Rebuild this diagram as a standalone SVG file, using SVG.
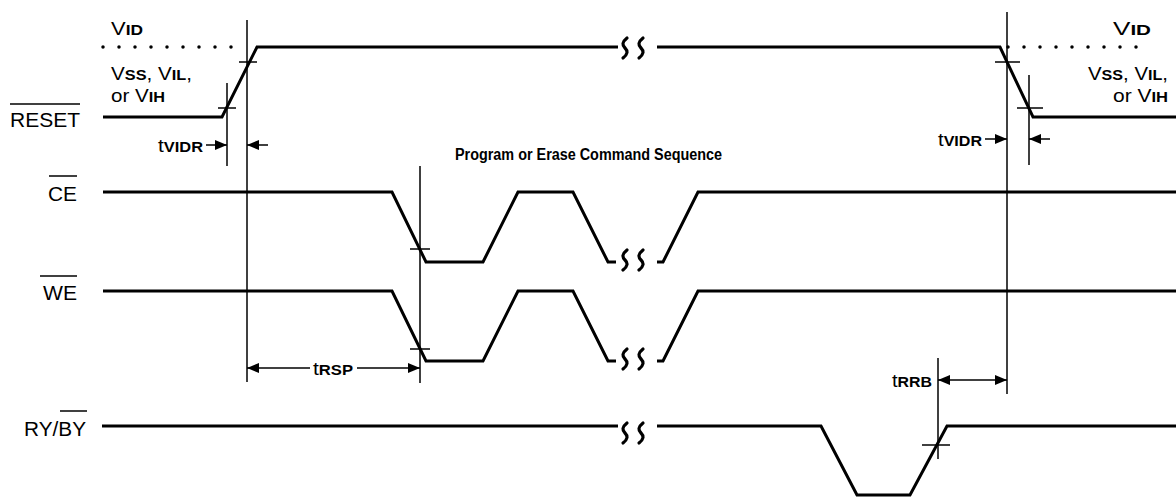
<svg xmlns="http://www.w3.org/2000/svg" width="1176" height="498" viewBox="0 0 1176 498">
<style>
  .wave{fill:none;stroke:#000;stroke-width:3;stroke-linejoin:miter}
  .thin{fill:none;stroke:#000;stroke-width:1.5}
  .brk{fill:none;stroke:#000;stroke-width:3.2;stroke-linecap:round}
  .dots{fill:none;stroke:#000;stroke-width:3.5;stroke-linecap:round;stroke-dasharray:0 16}
  text{font-family:"Liberation Sans",Arial,sans-serif;fill:#000}
  .sig{font-size:20px}
  .v{font-size:19px}
  .sub{font-weight:bold;font-size:15px}
  .title{font-size:16px;font-weight:bold}
</style>
<defs>
  <marker id="ah" viewBox="0 0 12 10" refX="12" refY="5" markerWidth="12" markerHeight="10" markerUnits="userSpaceOnUse" orient="auto">
    <path d="M0,0 L12,5 L0,10 Z" fill="#000"/>
  </marker>
  <path id="brk" d="M2,-10 C-3,-6 -3,-3 0,0 C3,3 3,6 -2,10"/>
</defs>

<g id="labels">
  <text class="sig" x="80" y="127" text-anchor="end" textLength="70" lengthAdjust="spacingAndGlyphs">RESET</text>
  <line class="thin" x1="10" y1="104" x2="80" y2="104"/>
  <text class="sig" x="77" y="201" text-anchor="end" textLength="29" lengthAdjust="spacingAndGlyphs">CE</text>
  <line class="thin" x1="49" y1="176" x2="77" y2="176"/>
  <text class="sig" x="77" y="300" text-anchor="end" textLength="34" lengthAdjust="spacingAndGlyphs">WE</text>
  <line class="thin" x1="40" y1="276" x2="77" y2="276"/>
  <text class="sig" x="86" y="436" text-anchor="end" textLength="62" lengthAdjust="spacingAndGlyphs">RY/BY</text>
  <line class="thin" x1="60" y1="411" x2="87" y2="411"/>
  <text class="title" x="455" y="160" textLength="267" lengthAdjust="spacingAndGlyphs">Program or Erase Command Sequence</text>
</g>

<g id="levels">
  <line class="dots" x1="103" y1="47" x2="247" y2="47"/>
  <line class="dots" x1="1008" y1="47" x2="1152" y2="47"/>
  <text class="v" x="111" y="35" textLength="32" lengthAdjust="spacingAndGlyphs">V<tspan class="sub">ID</tspan></text>
  <text class="v" x="111" y="80" textLength="81" lengthAdjust="spacingAndGlyphs">V<tspan class="sub">SS</tspan>, V<tspan class="sub">IL</tspan>,</text>
  <text class="v" x="111" y="102" textLength="54" lengthAdjust="spacingAndGlyphs">or V<tspan class="sub">IH</tspan></text>
  <text class="v" x="1151" y="35" text-anchor="end" textLength="38" lengthAdjust="spacingAndGlyphs">V<tspan class="sub">ID</tspan></text>
  <text class="v" x="1168" y="80" text-anchor="end" textLength="80" lengthAdjust="spacingAndGlyphs">V<tspan class="sub">SS</tspan>, V<tspan class="sub">IL</tspan>,</text>
  <text class="v" x="1168" y="102" text-anchor="end" textLength="55" lengthAdjust="spacingAndGlyphs">or V<tspan class="sub">IH</tspan></text>
</g>

<g id="reset">
  <polyline class="wave" points="103,117 222,117 257,47 618,47"/>
  <polyline class="wave" points="657,47 1000,47 1033,117 1176,117"/>
  <use href="#brk" class="brk" x="625" y="48"/>
  <use href="#brk" class="brk" x="641" y="48"/>
</g>

<g id="ce">
  <polyline class="wave" points="103,192 392,192 426,262 483,262 518,192 573,192 608,262 616,262"/>
  <polyline class="wave" points="657,262 663,262 698,192 1176,192"/>
  <use href="#brk" class="brk" x="625" y="260"/>
  <use href="#brk" class="brk" x="641" y="260"/>
</g>

<g id="we">
  <polyline class="wave" points="103,291 392,291 426,361 483,361 518,291 573,291 608,361 616,361"/>
  <polyline class="wave" points="657,361 663,361 698,291 1176,291"/>
  <use href="#brk" class="brk" x="625" y="359"/>
  <use href="#brk" class="brk" x="641" y="359"/>
</g>

<g id="ryby">
  <polyline class="wave" points="102,426 618,426"/>
  <polyline class="wave" points="657,426 821,426 857,495 910,495 947,426 1176,426"/>
  <use href="#brk" class="brk" x="625" y="433"/>
  <use href="#brk" class="brk" x="641" y="433"/>
</g>

<g id="connectors">
  <line class="thin" x1="247" y1="20" x2="247" y2="382"/>
  <line class="thin" x1="227" y1="83" x2="227" y2="166"/>
  <line class="thin" x1="1007" y1="12" x2="1007" y2="394"/>
  <line class="thin" x1="1029" y1="75" x2="1029" y2="165"/>
  <line class="thin" x1="420" y1="166" x2="420" y2="383"/>
  <line class="thin" x1="938" y1="358" x2="938" y2="459"/>
  <line class="thin" x1="218" y1="108" x2="236" y2="108"/>
  <line class="thin" x1="239" y1="62" x2="257" y2="62"/>
  <line class="thin" x1="995" y1="62" x2="1020" y2="62"/>
  <line class="thin" x1="1017" y1="108" x2="1043" y2="108"/>
  <line class="thin" x1="410" y1="249" x2="430" y2="249"/>
  <line class="thin" x1="410" y1="349" x2="430" y2="349"/>
  <line class="thin" x1="922" y1="445" x2="950" y2="445"/>
  <line class="thin" x1="206" y1="145" x2="227" y2="145" marker-end="url(#ah)"/>
  <line class="thin" x1="268" y1="145" x2="247" y2="145" marker-end="url(#ah)"/>
  <text class="v" x="158" y="152" textLength="45" lengthAdjust="spacingAndGlyphs">t<tspan class="sub">VIDR</tspan></text>
  <line class="thin" x1="985" y1="139" x2="1007" y2="139" marker-end="url(#ah)"/>
  <line class="thin" x1="1050" y1="139" x2="1029" y2="139" marker-end="url(#ah)"/>
  <text class="v" x="938" y="146" textLength="44" lengthAdjust="spacingAndGlyphs">t<tspan class="sub">VIDR</tspan></text>
  <line class="thin" x1="310" y1="368" x2="247" y2="368" marker-end="url(#ah)"/>
  <line class="thin" x1="357" y1="368" x2="420" y2="368" marker-end="url(#ah)"/>
  <text class="v" x="313" y="375" textLength="40" lengthAdjust="spacingAndGlyphs">t<tspan class="sub">RSP</tspan></text>
  <line class="thin" x1="972" y1="380" x2="938" y2="380" marker-end="url(#ah)"/>
  <line class="thin" x1="972" y1="380" x2="1007" y2="380" marker-end="url(#ah)"/>
  <text class="v" x="892" y="387" textLength="40" lengthAdjust="spacingAndGlyphs">t<tspan class="sub">RRB</tspan></text>
</g>
</svg>
